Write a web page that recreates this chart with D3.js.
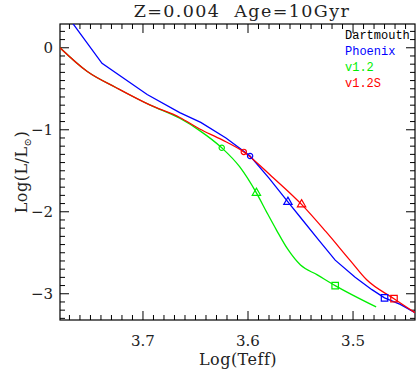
<!DOCTYPE html>
<html>
<head>
<meta charset="utf-8">
<script src="https://cdn.jsdelivr.net/npm/d3@7"></script>
<style>
body{margin:0;background:#fff;}
text{font-family:"DejaVu Serif","Liberation Serif",serif;fill:#222;white-space:pre;}
.leg{font-family:"Liberation Mono","DejaVu Sans Mono",monospace;font-size:12px;}
</style>
</head>
<body>
<div id="chart"></div>
<script>
// isochrone tracks, [logTeff, logL]
var phoenix = [[3.767,0.30],[3.739,-0.19],[3.696,-0.57],[3.665,-0.79],[3.645,-0.91],[3.621,-1.10],
  [3.598,-1.32],[3.580,-1.59],[3.562,-1.88],[3.550,-2.07],[3.533,-2.34],[3.517,-2.59],
  [3.498,-2.80],[3.482,-2.95],[3.470,-3.05],[3.455,-3.13],[3.441,-3.23]];
var v12 = [[3.779,0.0],[3.753,-0.29],[3.725,-0.49],[3.693,-0.70],[3.665,-0.86],[3.646,-1.01],
  [3.625,-1.22],[3.608,-1.45],[3.592,-1.77],[3.582,-2.01],[3.573,-2.22],[3.562,-2.46],
  [3.550,-2.65],[3.534,-2.77],[3.517,-2.90],[3.478,-3.16]];
var v12s = [[3.779,0.0],[3.753,-0.29],[3.725,-0.49],[3.693,-0.70],[3.665,-0.85],[3.646,-0.99],
  [3.625,-1.12],[3.604,-1.27],[3.576,-1.585],[3.549,-1.91],[3.526,-2.24],[3.503,-2.59],
  [3.487,-2.83],[3.461,-3.06],[3.441,-3.23]];
// marker points: circle, triangle, square
var mkV12 = [[3.625,-1.22],[3.592,-1.77],[3.517,-2.90]];
var mkPhoenix = [[3.598,-1.32],[3.562,-1.88],[3.470,-3.05]];
var mkV12s = [[3.604,-1.27],[3.549,-1.91],[3.461,-3.06]];
var xTicks = [3.7,3.6,3.5];
var yTicks = [0,-1,-2,-3];
var legendNames = ["Dartmouth","Phoenix","v1.2","v1.2S"];
var legendColors = ["#000","#0000ff","#00ee00","#ff0000"];

var W=416,H=371;
var svg = d3.select("#chart").append("svg").attr("width",W).attr("height",H);
var x = d3.scaleLinear().domain([3.779,3.441]).range([60,415]);
var y = d3.scaleLinear().domain([0.29,-3.32]).range([24,320]);

svg.append("defs").append("clipPath").attr("id","clip")
  .append("rect").attr("x",60).attr("y",24).attr("width",355).attr("height",296);

// frame
svg.append("rect").attr("x",60).attr("y",24).attr("width",355).attr("height",296)
  .attr("fill","none").attr("stroke","#000").attr("stroke-width",1.2);

// ticks on all four sides
var xMinor = d3.range(345,378).map(function(d){return d/100;});
var yMinor = d3.range(-33,3).map(function(d){return d/10;});
var tg = svg.append("g").attr("stroke","#000").attr("stroke-width",1);
xMinor.forEach(function(v){
  var len = xTicks.some(function(t){return Math.abs(t-v)<1e-6;}) ? 9 : 5;
  tg.append("line").attr("x1",x(v)).attr("x2",x(v)).attr("y1",320).attr("y2",320-len);
  tg.append("line").attr("x1",x(v)).attr("x2",x(v)).attr("y1",24).attr("y2",24+len);
});
yMinor.forEach(function(v){
  var len = yTicks.some(function(t){return Math.abs(t-v)<1e-6;}) ? 9 : 5;
  tg.append("line").attr("y1",y(v)).attr("y2",y(v)).attr("x1",60).attr("x2",60+len);
  tg.append("line").attr("y1",y(v)).attr("y2",y(v)).attr("x1",415).attr("x2",415-len);
});

// tick labels
svg.selectAll(".xl").data(xTicks).enter().append("text")
  .attr("x",function(d){return x(d);}).attr("y",346).attr("text-anchor","middle")
  .attr("font-size",15).text(function(d){return d.toFixed(1);});
svg.selectAll(".yl").data(yTicks).enter().append("text")
  .attr("x",53).attr("y",function(d){return y(d)+5;}).attr("text-anchor","end")
  .attr("font-size",15).text(function(d){return d===0?"0":"\u2212"+Math.abs(d);});

// titles
svg.append("text").attr("x",242).attr("y",17).attr("text-anchor","middle")
  .attr("font-size",17.5).attr("letter-spacing",1.4).text("Z=0.004  Age=10Gyr");
svg.append("text").attr("x",238).attr("y",365).attr("text-anchor","middle")
  .attr("font-size",16).attr("letter-spacing",0.5).text("Log(Teff)");
var yl = svg.append("text").attr("transform","translate(27,172) rotate(-90)")
  .attr("text-anchor","middle").attr("font-size",16).attr("letter-spacing",0.5);
yl.append("tspan").text("Log(L/L");
yl.append("tspan").attr("font-size",10).attr("dy",4).text("\u2299");
yl.append("tspan").attr("dy",-4).text(")");

// curves
var line = d3.line().x(function(d){return x(d[0]);}).y(function(d){return y(d[1]);})
  .curve(d3.curveMonotoneX);
var cg = svg.append("g").attr("clip-path","url(#clip)").attr("fill","none").attr("stroke-width",1.3);
cg.append("path").datum(v12).attr("d",line).attr("stroke","#00ee00");
cg.append("path").datum(phoenix).attr("d",d3.line().x(function(d){return x(d[0]);}).y(function(d){return y(d[1]);})).attr("stroke","#0000ff");
cg.append("path").datum(v12s).attr("d",line).attr("stroke","#ff0000");

// markers
var shapes = [d3.symbolCircle,d3.symbolTriangle,d3.symbolSquare];
var sizes = [22,30,42];
[[mkV12,"#00ee00"],[mkPhoenix,"#0000ff"],[mkV12s,"#ff0000"]].forEach(function(s){
  svg.selectAll(null).data(s[0]).enter().append("path")
    .attr("d",function(d,i){return d3.symbol().type(shapes[i]).size(sizes[i])();})
    .attr("transform",function(d){return "translate("+x(d[0])+","+y(d[1])+")";})
    .attr("fill","none").attr("stroke",s[1]).attr("stroke-width",1.2);
});

// legend
svg.selectAll(".leg").data(legendNames).enter().append("text").attr("class","leg")
  .attr("x",345).attr("y",function(d,i){return 39+i*16;})
  .style("fill",function(d,i){return legendColors[i];}).text(function(d){return d;});
</script>
</body>
</html>
